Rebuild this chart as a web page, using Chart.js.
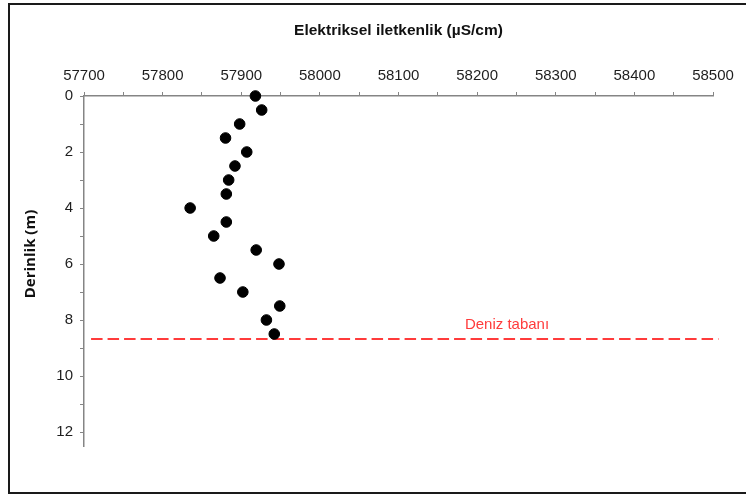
<!DOCTYPE html>
<html>
<head>
<meta charset="utf-8">
<script src="https://cdn.jsdelivr.net/npm/chart.js@4.4.0/dist/chart.umd.min.js"></script>
<style>
  html, body { margin: 0; padding: 0; background: #fff; }
  #wrap { width: 746px; height: 495px; }
</style>
</head>
<body>
<div id="wrap"><canvas id="chart" width="746" height="495"></canvas></div>
<script>
// depth profile of conductivity
const depths = [0, 0.5, 1, 1.5, 2, 2.5, 3, 3.5, 4, 4.5, 5, 5.5, 6, 6.5, 7, 7.5, 8, 8.5];
const conductivity = [57918, 57926, 57898, 57880, 57907, 57892, 57884, 57881, 57835,
  57881, 57865, 57919, 57948, 57873, 57902, 57949, 57932, 57942];

// seabed reference line
const seabedDepth = 8.68;
const seabedRange = [57709, 58507];
const seabedLabel = "Deniz tabanı";

const xTitle = "Elektriksel iletkenlik (µS/cm)";
const yTitle = "Derinlik (m)";

const points = depths.map((d, i) => ({ x: conductivity[i], y: d }));
const seabed = seabedRange.map((x) => ({ x: x, y: seabedDepth }));

const axisGray = "#858585";
const tickFont = { family: "Liberation Sans, Arial, sans-serif", size: 15 };

// white background + outer frame, y title and seabed label
const decorations = {
  id: "decorations",
  beforeDraw(chart) {
    const ctx = chart.ctx;
    ctx.save();
    ctx.fillStyle = "#fff";
    ctx.fillRect(0, 0, chart.width, chart.height);
    ctx.restore();
  },
  afterDraw(chart) {
    const ctx = chart.ctx;
    const { x, y } = chart.scales;
    ctx.save();
    ctx.strokeStyle = "#1a1a1a";
    ctx.lineWidth = 2;
    ctx.strokeRect(9, 4, chart.width + 10, 489);

    ctx.translate(31, 254);
    ctx.rotate(-Math.PI / 2);
    ctx.fillStyle = "#111";
    ctx.font = "bold 15px 'Open Sans', sans-serif";
    ctx.textAlign = "center";
    ctx.textBaseline = "middle";
    ctx.fillText(yTitle, 0, 0);
    ctx.restore();

    ctx.save();
    ctx.fillStyle = "#ff3b3b";
    ctx.font = "15px 'Liberation Sans', Arial, sans-serif";
    ctx.textAlign = "center";
    ctx.textBaseline = "middle";
    ctx.fillText(seabedLabel, x.getPixelForValue(58238), y.getPixelForValue(seabedDepth) - 14);
    ctx.restore();
  }
};

new Chart(document.getElementById("chart"), {
  type: "scatter",
  data: {
    datasets: [
      {
        data: points,
        backgroundColor: "#000",
        borderColor: "#000",
        pointRadius: 5.3,
        pointHoverRadius: 5.3,
        clip: false,
      },
      {
        data: seabed,
        showLine: true,
        borderColor: "#ff3b3b",
        borderWidth: 2,
        borderDash: [11.5, 5],
        pointRadius: 0,
        clip: false,
      },
    ],
  },
  options: {
    responsive: false,
    animation: false,
    events: [],
    layout: { padding: { left: 0, top: 0, right: 33, bottom: 49 } },
    plugins: {
      legend: { display: false },
      tooltip: { enabled: false },
    },
    scales: {
      x: {
        type: "linear",
        position: "top",
        min: 57700,
        max: 58500,
        afterFit: (scale) => { scale.height = 96; },
        ticks: {
          stepSize: 50,
          autoSkip: false,
          maxRotation: 0,
          padding: 7,
          color: "#1e1e1e",
          font: tickFont,
          callback: (v) => (v % 100 === 0 ? String(v) : ""),
        },
        grid: { drawOnChartArea: false, drawTicks: true, tickLength: 4, color: axisGray },
        border: { color: axisGray, width: 1.5 },
        title: {
          display: true,
          text: xTitle,
          color: "#111",
          font: { family: "Liberation Sans, Arial, sans-serif", size: 15.5, weight: "bold" },
          padding: { top: 21, bottom: 0 },
        },
      },
      y: {
        type: "linear",
        reverse: true,
        min: 0,
        max: 12.5,
        afterFit: (scale) => { scale.width = 84; },
        ticks: {
          stepSize: 1,
          includeBounds: false,
          autoSkip: false,
          padding: 7,
          color: "#1e1e1e",
          font: tickFont,
          callback: (v) => (v % 2 === 0 ? String(v) : ""),
        },
        grid: { drawOnChartArea: false, drawTicks: true, tickLength: 4, color: axisGray },
        border: { color: axisGray, width: 1.5 },
      },
    },
  },
  plugins: [decorations],
});
</script>
</body>
</html>
